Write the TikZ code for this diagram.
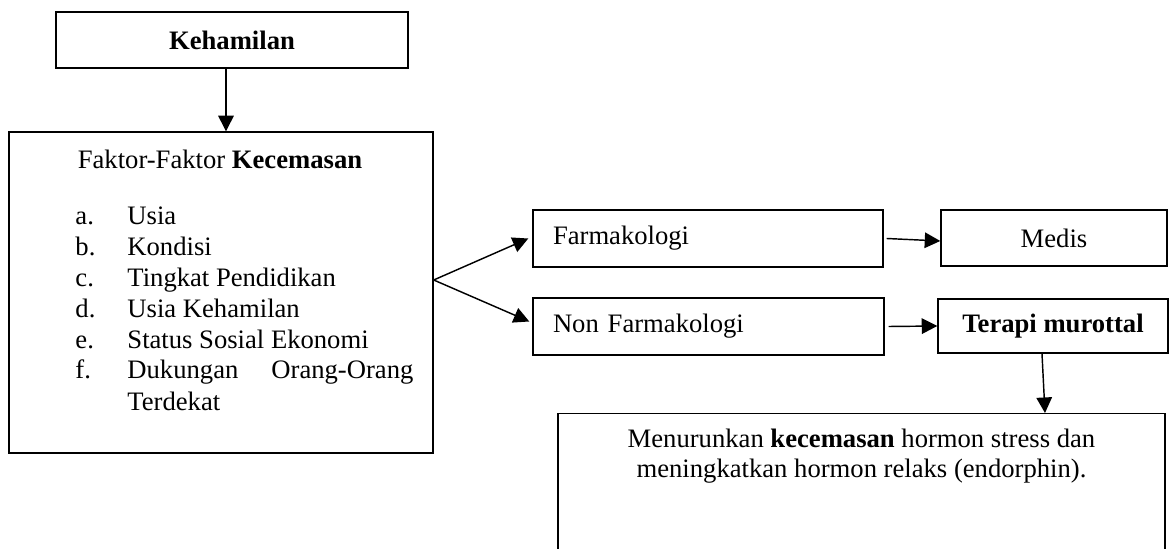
\documentclass[tikz,border=0pt,12pt]{standalone}
\usepackage{fontspec}
\setmainfont{Liberation Serif}
\usetikzlibrary{arrows.meta, calc, positioning}

\newdimen\px
\px=0.4505pt

\begin{document}
\begin{tikzpicture}[
    x=0.4505pt,  % 1 単位 = 参照画像の 1px
    y=-0.4505pt, % 上から下へ
    >={Triangle[length=7pt, width=7pt]},
    box/.style={draw, line width=0.65pt, inner sep=0pt},
    arr/.style={->, line width=0.65pt}
]
    \useasboundingbox (0,0) rectangle (1171,549);
    \clip (0,0) rectangle (1171,549);

    % --- 左側のボックス ---
    \node[box, minimum width=352\px, minimum height=56\px, font=\bfseries] (keh) at (232,40) {Kehamilan};
    \node[box, minimum width=424\px, minimum height=321\px] (faktor) at (221,292.5) {};

    % --- 要因のリスト ---
    \node[anchor=base] (judul) at (220,169) {Faktor-Faktor \textbf{Kecemasan}};
    \foreach \lab/\txt [count=\i] in {a/Usia, b/Kondisi, c/Tingkat Pendidikan, d/Usia Kehamilan,
        e/Status Sosial Ekonomi, f/{\makebox[286\px][s]{Dukungan Orang-Orang}}} {
        \node[anchor=base west, inner sep=0pt] (lab\i) at (75, {225+30.8*(\i-1)}) {\lab.};
        \node[anchor=base west, inner sep=0pt] (item\i) at (127, {225+30.8*(\i-1)}) {\txt};
    }
    \node[anchor=base west, inner sep=0pt] (item7) at (127,410) {Terdekat};

    % --- 右側のボックス ---
    \node[box, text width=310\px, inner xsep=20\px, minimum height=57\px, align=left] (farm) at (708,238.5) {Farmakologi};
    \node[box, text width=311\px, inner xsep=20\px, minimum height=57\px, align=left] (nonfarm) at (708.5,326.5) {Non Farmakologi};
    \node[box, minimum width=226\px, minimum height=56\px] (medis) at (1054,238) {Medis};
    \node[box, minimum width=230\px, minimum height=54\px, font=\bfseries] (terapi) at (1053,326) {Terapi murottal};

    % --- 結果のボックス（下端は画像外）---
    \node[box, minimum width=607\px, minimum height=170\px, anchor=north] (hasil) at (861.5,413) {};
    \node[anchor=base] (hasil1) at (861.5,448) {Menurunkan \textbf{kecemasan} hormon stress dan};
    \node[anchor=base] (hasil2) at (861.5,478) {meningkatkan hormon relaks (endorphin).};

    % --- 矢印 ---
    \draw[arr] ([xshift=-6\px]keh.south) -- ([xshift=-6\px]keh.south |- faktor.north);
    \coordinate (split) at ([yshift=12.5\px]faktor.east);
    \draw[arr] (split) -- ([xshift=-4\px]farm.west);
    \draw[arr] (split) -- ([xshift=-3\px, yshift=5\px]nonfarm.west);
    \draw[arr] ([xshift=3\px]farm.east) -- ([yshift=-3\px]medis.west);
    \draw[arr] ([xshift=4\px]nonfarm.east) -- (terapi.west);
    \draw[arr] ([xshift=-11\px]terapi.south) -- ([xshift=-8\px]terapi.south |- hasil.north);

\end{tikzpicture}
\end{document}
